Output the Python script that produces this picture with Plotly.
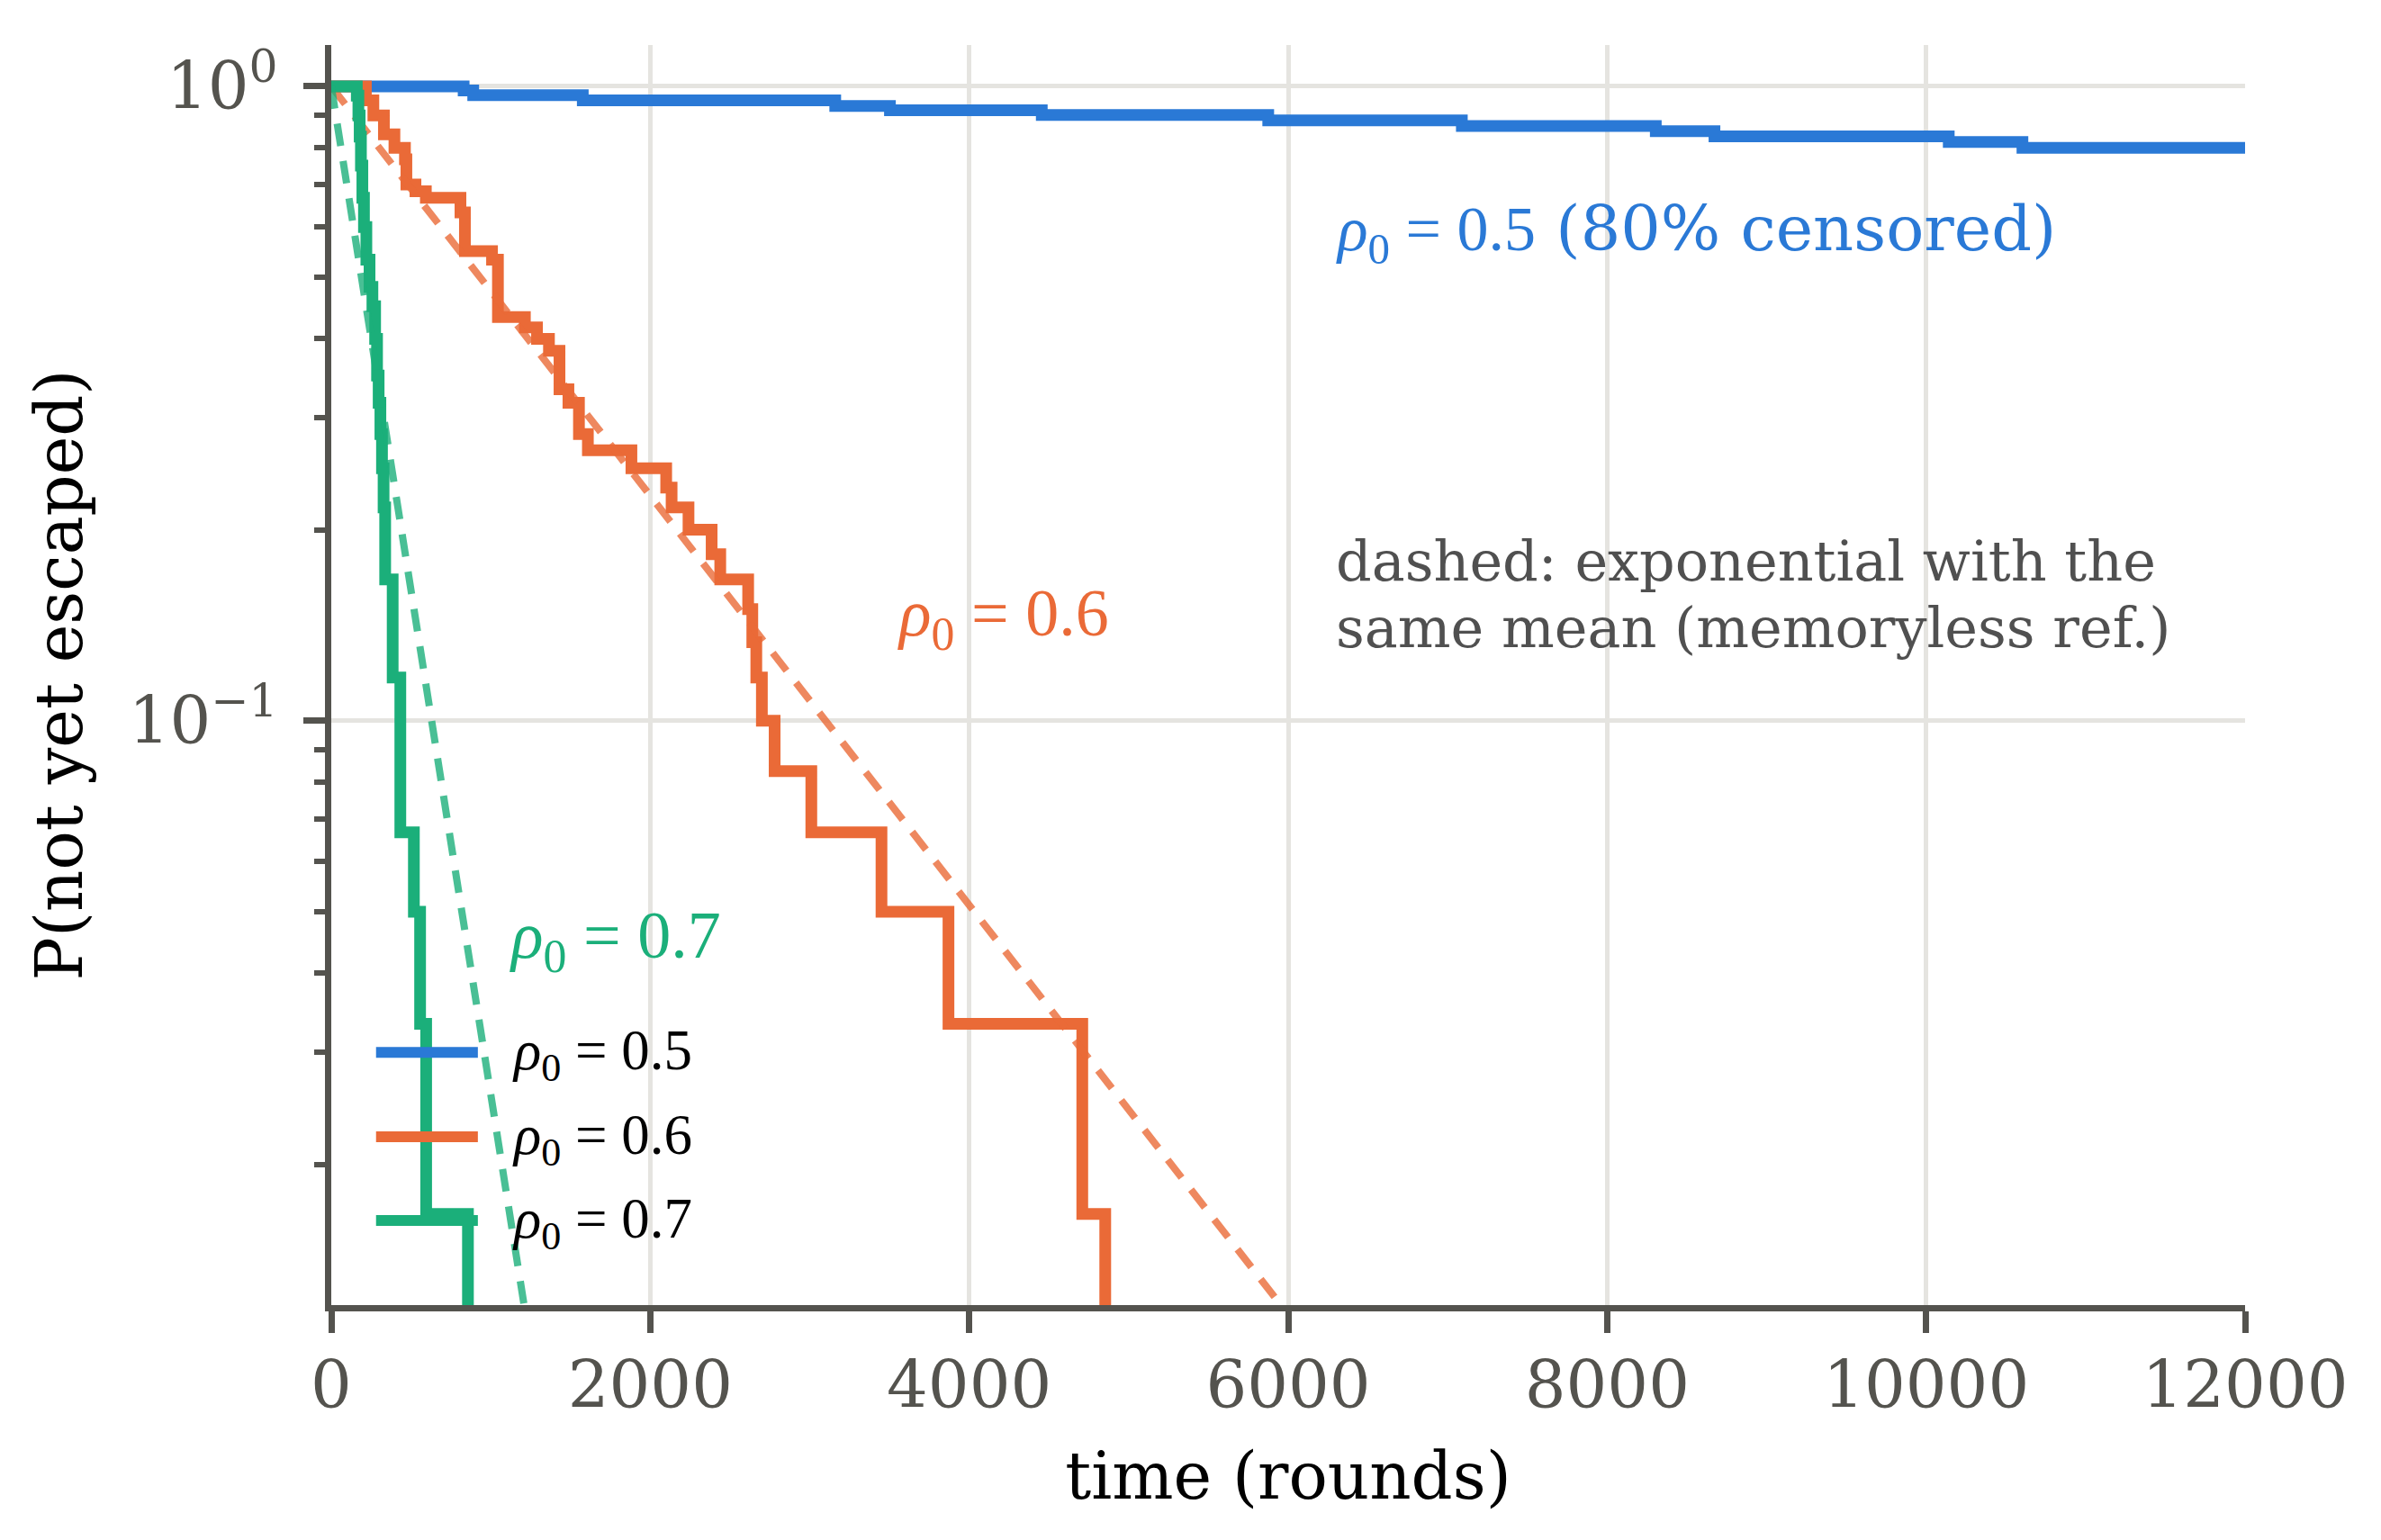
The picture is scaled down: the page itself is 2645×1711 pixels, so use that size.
import plotly.graph_objects as go

# survival curves (step "post": from round t on, fraction left is p)
t_05 = [0, 830, 890, 1577, 3160, 3503, 4455, 5875, 7089, 8305, 8673, 10142, 10604, 12000]
p_05 = [1.0, 0.985, 0.968, 0.950, 0.931, 0.917, 0.901, 0.884, 0.866, 0.850, 0.834, 0.817, 0.800, 0.800]

t_06 = [0, 217, 264, 330, 396, 462, 471, 528, 593, 810,
        838, 1008, 1045, 1214, 1290, 1365, 1431, 1487, 1553, 1609,
        1882, 2100, 2134, 2240, 2385, 2439, 2614, 2640, 2665, 2700,
        2780, 3010, 3450, 3870, 4709, 4853]
p_06 = [1.0, 0.95, 0.90, 0.84, 0.80, 0.767, 0.70, 0.683, 0.667, 0.633,
        0.55, 0.533, 0.433, 0.417, 0.40, 0.383, 0.333, 0.317, 0.283, 0.267,
        0.25, 0.233, 0.217, 0.20, 0.183, 0.167, 0.15, 0.133, 0.117, 0.10,
        0.0833, 0.0667, 0.05, 0.0333, 0.0167, 1e-4]  # last one: everyone escaped, drops off the axis

t_07 = [0, 160, 170, 178, 186, 195, 205, 220, 240, 258,
        275, 287, 297, 308, 318, 328, 338, 385, 433, 518,
        557, 595, 857]
p_07 = [1.0, 0.967, 0.90, 0.833, 0.75, 0.667, 0.60, 0.533, 0.483, 0.45,
        0.40, 0.35, 0.317, 0.283, 0.25, 0.217, 0.167, 0.117, 0.0667, 0.05,
        0.0333, 0.0167, 1e-4]

# dashed memoryless references (straight lines on the log axis), end points
t_exp06 = [0, 6500]
p_exp06 = [1.0, 0.0080]
t_exp07 = [0, 1300]
p_exp07 = [1.0, 0.0086]

x_ticks = [0, 2000, 4000, 6000, 8000, 10000, 12000]
x_ticktext = ["0", "2000", "4000", "6000", "8000", "10000", "12000"]
y_ticks = [0.1, 1]
y_ticktext = ["10<sup>\u22121</sup>", "10<sup>0</sup>"]
y_minor = [0.02, 0.03, 0.04, 0.05, 0.06, 0.07, 0.08, 0.09,
           0.2, 0.3, 0.4, 0.5, 0.6, 0.7, 0.8, 0.9]

series_names = ["0.5", "0.6", "0.7"]

BLUE = "#2A79D6"
ORANGE = "#EA6A37"
GREEN = "#1BAF7A"
AXIS = "#54534E"
GRID = "#E5E4E0"
SERIF = "DejaVu Serif"
MATH = "Liberation Serif"
colors = [BLUE, ORANGE, GREEN]

def rho(val):
    return f"<i>\u03c1</i><sub>0</sub> = {val}"

fig = go.Figure()
fig.add_trace(go.Scatter(x=t_05, y=p_05, mode="lines", line_shape="hv",
                         line=dict(color=BLUE, width=13), name=rho("0.5")))
fig.add_trace(go.Scatter(x=t_06, y=p_06, mode="lines", line_shape="hv",
                         line=dict(color=ORANGE, width=13), name=rho("0.6")))
fig.add_trace(go.Scatter(x=t_exp06, y=p_exp06, mode="lines",
                         line=dict(color="rgba(234,106,55,0.8)", width=8, dash="25px,17px")))
fig.add_trace(go.Scatter(x=t_07, y=p_07, mode="lines", line_shape="hv",
                         line=dict(color=GREEN, width=13), name=rho("0.7")))
fig.add_trace(go.Scatter(x=t_exp07, y=p_exp07, mode="lines",
                         line=dict(color="rgba(27,175,122,0.8)", width=8, dash="25px,17px")))

axis_common = dict(
    showline=True, linewidth=7, linecolor=AXIS,
    ticks="outside", ticklen=24, tickwidth=7, tickcolor=AXIS,
    tickfont=dict(family=SERIF, size=72, color=AXIS),
    showgrid=True, gridcolor=GRID, gridwidth=5, zeroline=False,
)

fig.update_xaxes(range=[0, 12000], tickvals=x_ticks, ticktext=x_ticktext, ticklabelstandoff=-3,
                 title=dict(text="time (rounds)", font=dict(family=SERIF, size=72, color="black"),
                            standoff=37),
                 **axis_common)
fig.update_yaxes(type="log", range=[-1.9209, 0.0651], tickvals=y_ticks, ticktext=y_ticktext,
                 ticklabelstandoff=14,
                 minor=dict(tickvals=y_minor, ticks="outside", ticklen=12, tickwidth=6,
                            tickcolor=AXIS, showgrid=False),
                 title=dict(text="P(not yet escaped)", font=dict(family=SERIF, size=72, color="black"),
                            standoff=30),
                 **axis_common)

annos = [
    dict(x=6287, y=-0.2306,
         text=f"<span style='font-family:{MATH}'>{rho('0.5')}</span> (80% censored)",
         font=dict(family=SERIF, size=70, color=BLUE)),
    dict(x=3537, y=-0.8375, text=rho("0.6"), font=dict(family=MATH, size=74, color=ORANGE)),
    dict(x=1109, y=-1.345, text=rho("0.7"), font=dict(family=MATH, size=74, color=GREEN)),
    dict(x=6290, y=-0.7482, text="dashed: exponential with the",
         font=dict(family=SERIF, size=62, color="#505050")),
    dict(x=6290, y=-0.8531, text="same mean (memoryless ref.)",
         font=dict(family=SERIF, size=62, color="#505050")),
]
for a in annos:
    fig.add_annotation(xref="x", yref="y", xanchor="left", yanchor="middle",
                       showarrow=False, **a)

# hand-drawn legend (long line keys like the reference), placed in paper coordinates
legend_rows_y = [0.2006, 0.1335, 0.0671]
for name, col, yy in zip(series_names, colors, legend_rows_y):
    fig.add_shape(type="line", xref="paper", yref="paper", x0=0.0234, x1=0.0766, y0=yy, y1=yy,
                  line=dict(color=col, width=12))
    fig.add_annotation(xref="paper", yref="paper", x=0.0935, y=yy - 0.002, xanchor="left",
                       yanchor="middle", showarrow=False, text=rho(name),
                       font=dict(family=MATH, size=63, color="black"))

fig.update_layout(
    width=2645, height=1711,
    margin=dict(l=368, r=151, t=50, b=261),
    plot_bgcolor="white", paper_bgcolor="white",
    showlegend=False,
)

fig.write_html("out.html", config={"displayModeBar": False},
               post_script="document.body.style.margin='0';")
